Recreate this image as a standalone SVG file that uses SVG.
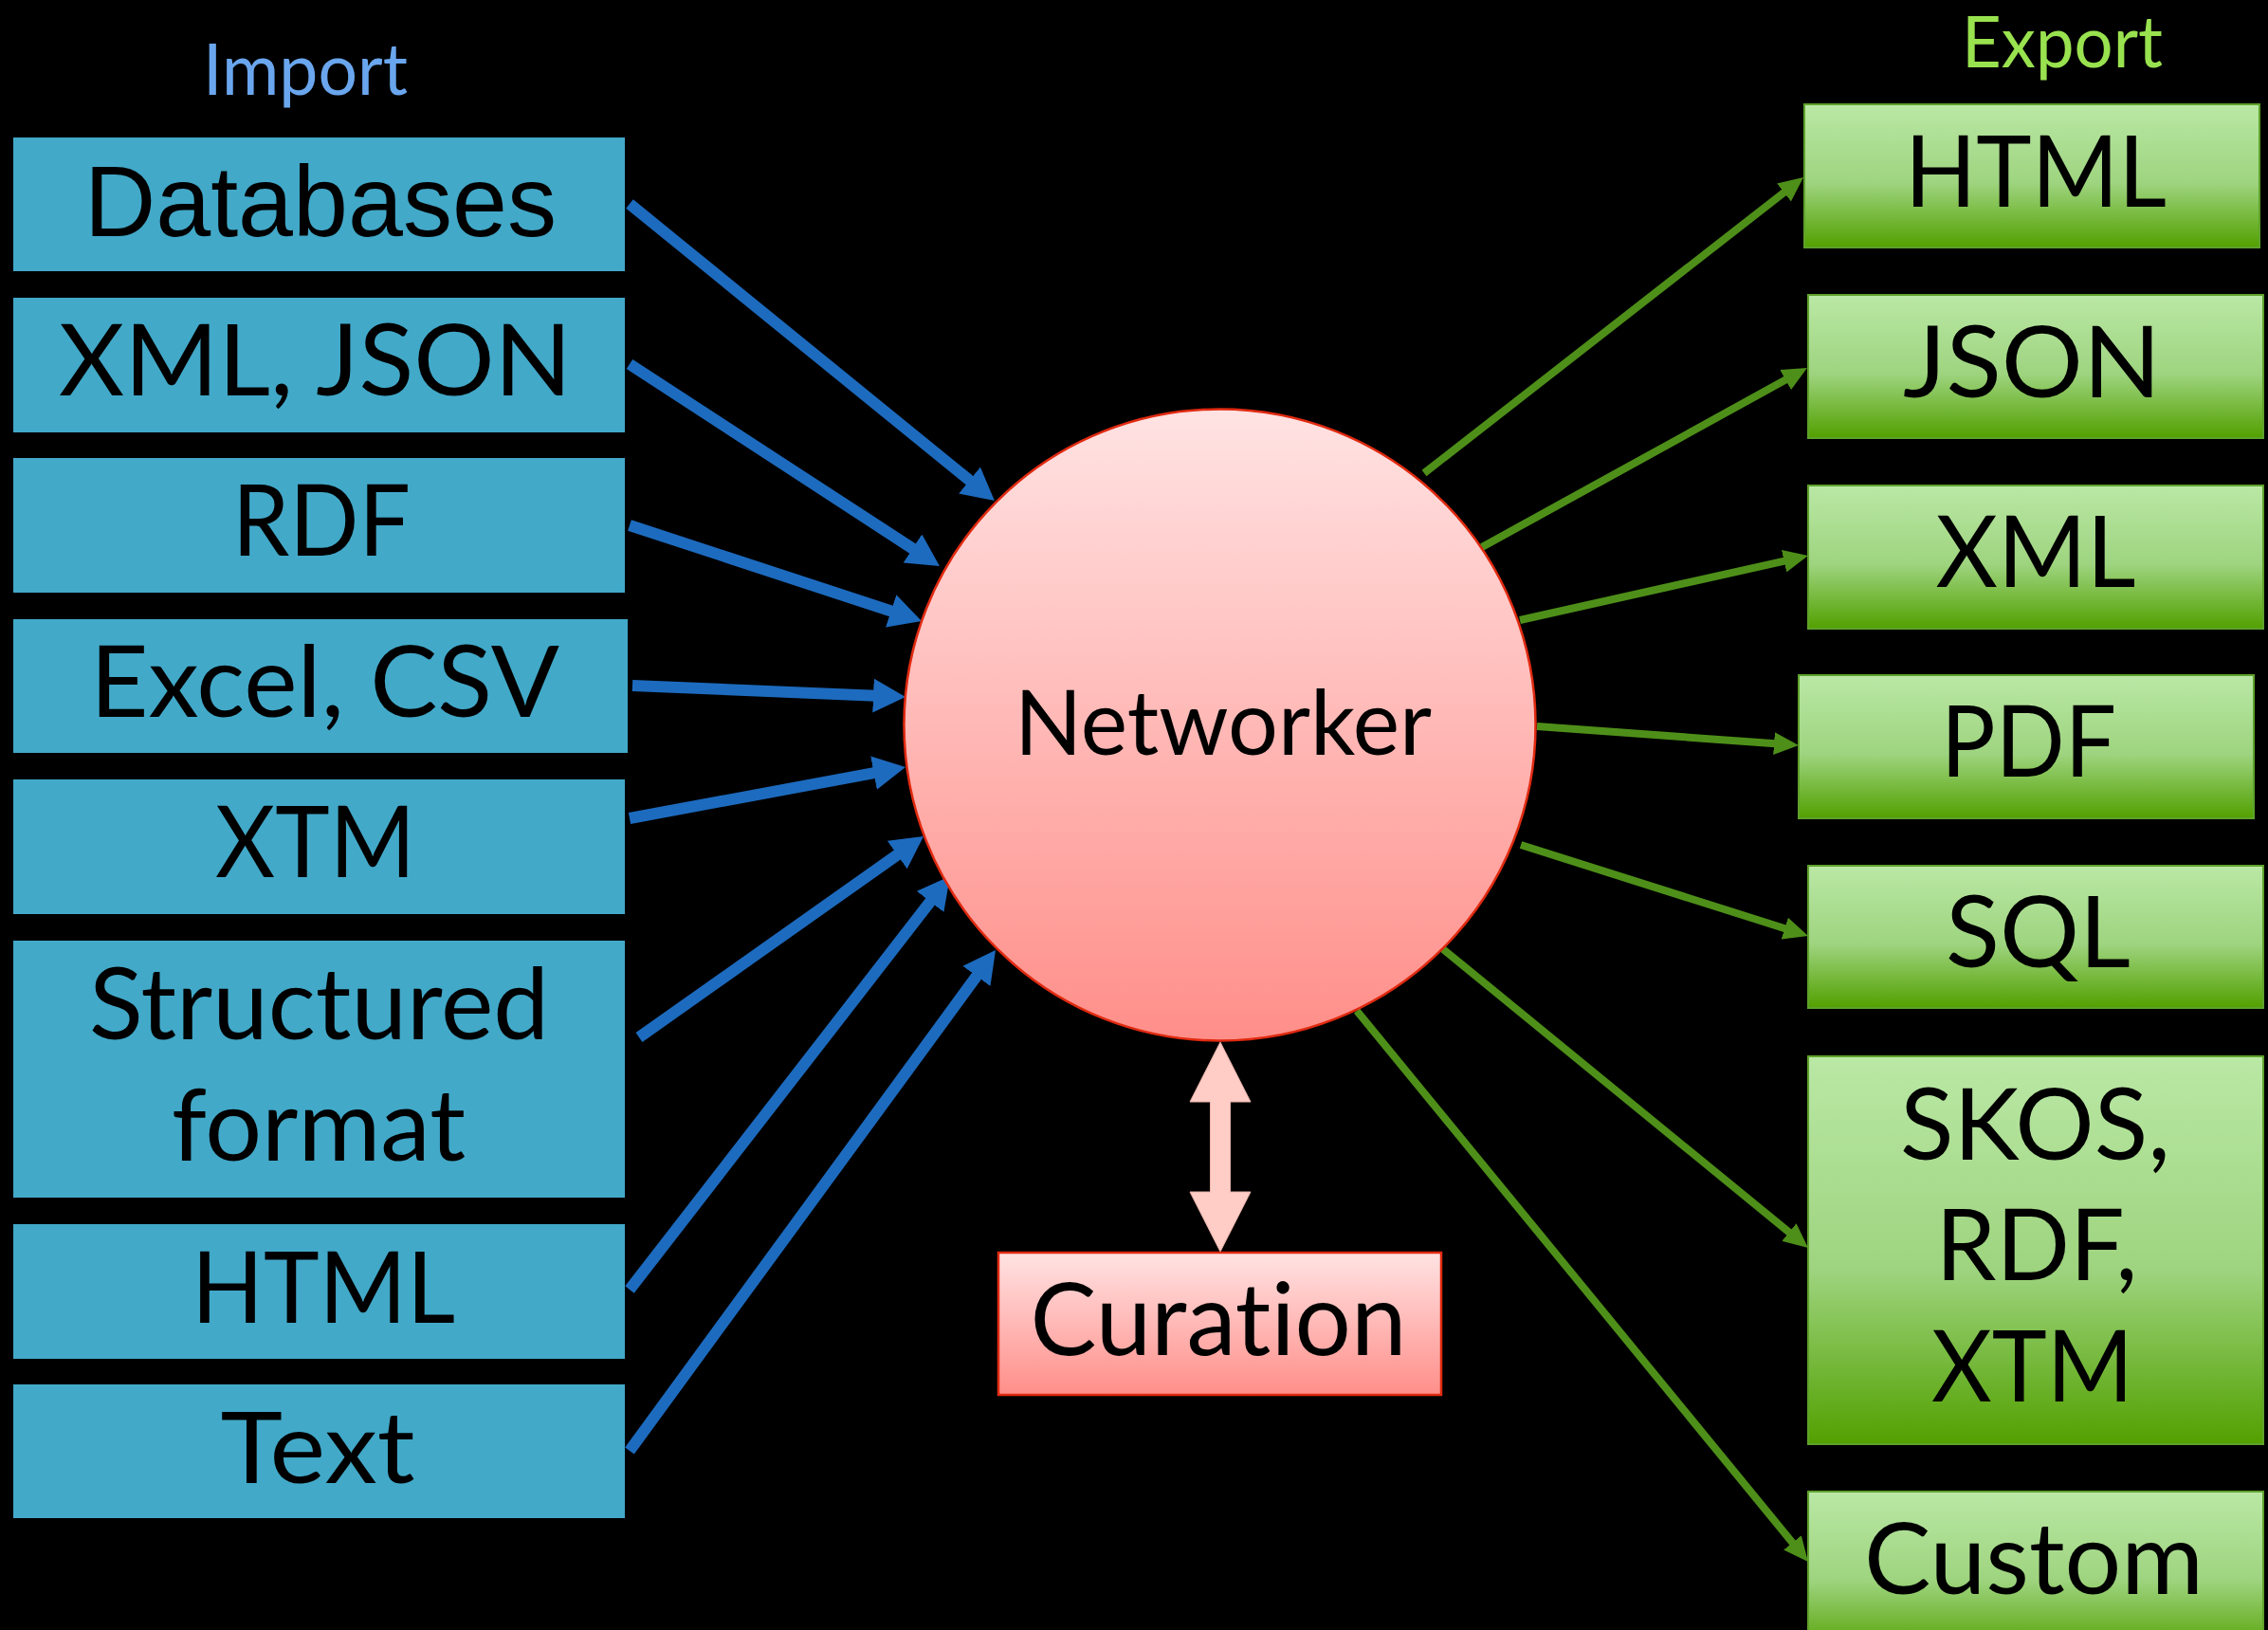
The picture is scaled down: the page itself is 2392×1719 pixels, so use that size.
<svg xmlns="http://www.w3.org/2000/svg" width="2392" height="1719" viewBox="0 0 2392 1719">
  <style>
    .lbl { font-family: Lato, "Noto Sans", "Liberation Sans", sans-serif; fill: #000; text-anchor: middle; font-variant-ligatures: none; font-feature-settings: "liga" 0; }
    .big { font-size: 105px; }
    .db { font-family: "Liberation Sans", Arial, sans-serif; font-size: 105px; fill: #000; text-anchor: middle; }
    .src { fill: #42A9C9; }
    .dst { fill: url(#greenGrad); stroke: #5EA12B; stroke-width: 2; }
    .in { stroke: #1D6BBF; stroke-width: 12; fill: none; marker-end: url(#headBlue); }
    .out { stroke: #4E8F19; stroke-width: 8; fill: none; marker-end: url(#headGreen); }
  </style>
  <defs>
    <linearGradient id="greenGrad" x1="0" y1="0" x2="0" y2="1">
      <stop offset="0" stop-color="#BAE8A5"/>
      <stop offset="0.55" stop-color="#9ED47F"/>
      <stop offset="1" stop-color="#52A000"/>
    </linearGradient>
    <linearGradient id="pinkGrad" x1="0" y1="0" x2="0" y2="1">
      <stop offset="0" stop-color="#FFE3E3"/>
      <stop offset="1" stop-color="#FF8E89"/>
    </linearGradient>
    <marker id="headBlue" markerUnits="userSpaceOnUse" markerWidth="34" markerHeight="36" refX="14" refY="18" orient="auto" viewBox="0 0 34 36">
      <path d="M0,0 L34,18 L0,36 z" fill="#1D6BBF"/>
    </marker>
    <marker id="headGreen" markerUnits="userSpaceOnUse" markerWidth="26" markerHeight="24" refX="12" refY="12" orient="auto" viewBox="0 0 26 24">
      <path d="M0,0 L26,12 L0,24 z" fill="#4E8F19"/>
    </marker>
  </defs>

  <rect width="2392" height="1719" fill="#000"/>

  <!-- column headings -->
  <text class="lbl" x="322" y="100" font-size="75" style="fill:#6AA6EE" textLength="216" lengthAdjust="spacingAndGlyphs">Import</text>
  <text class="lbl" x="2175" y="71" font-size="76" style="fill:#99E24F" textLength="212" lengthAdjust="spacingAndGlyphs">Export</text>

  <!-- connectors -->
  <g id="connectors">
    <line class="in" x1="664" y1="215" x2="1033.4" y2="515.4"/>
    <line class="in" x1="664" y1="384" x2="974.2" y2="586.1"/>
    <line class="in" x1="664" y1="554" x2="953.0" y2="648.8"/>
    <line class="in" x1="667" y1="723" x2="935.0" y2="734.2"/>
    <line class="in" x1="664" y1="863" x2="935.3" y2="812.6"/>
    <line class="in" x1="674" y1="1094" x2="957.7" y2="893.5"/>
    <line class="in" x1="664" y1="1360" x2="989.7" y2="939.8"/>
    <line class="in" x1="664" y1="1530" x2="1038.2" y2="1018.1"/>

    <line class="out" x1="1502" y1="499" x2="1891.0" y2="195.6"/>
    <line class="out" x1="1563" y1="577" x2="1893.7" y2="394.8"/>
    <line class="out" x1="1603" y1="654" x2="1893.3" y2="589.1"/>
    <line class="out" x1="1621" y1="766" x2="1883.0" y2="785.0"/>
    <line class="out" x1="1604" y1="891" x2="1893.7" y2="982.8"/>
    <line class="out" x1="1522" y1="1001" x2="1896.2" y2="1307.1"/>
    <line class="out" x1="1431" y1="1066" x2="1898.1" y2="1636.2"/>

    <!-- two-way link between the hub and curation -->
    <polygon points="1287,1099 1319,1162 1297.5,1162 1297.5,1257 1319,1257 1287,1320 1255,1257 1276.5,1257 1276.5,1162 1255,1162" fill="#FFCDC5" stroke="#E8B2AA" stroke-width="1"/>
  </g>

  <!-- import sources -->
  <g id="in-databases">
    <rect class="src" x="14" y="145" width="645" height="141"/>
    <text class="db" x="338" y="249" textLength="498" lengthAdjust="spacingAndGlyphs">Databases</text>
  </g>
  <g id="in-xml-json">
    <rect class="src" x="14" y="314" width="645" height="142"/>
    <text class="lbl big" x="332.5" y="417" textLength="541" lengthAdjust="spacingAndGlyphs">XML, JSON</text>
  </g>
  <g id="in-rdf">
    <rect class="src" x="14" y="483" width="645" height="142"/>
    <text class="lbl big" x="339" y="586" textLength="188" lengthAdjust="spacingAndGlyphs">RDF</text>
  </g>
  <g id="in-excel-csv">
    <rect class="src" x="14" y="653" width="648" height="141"/>
    <text class="lbl big" x="342.5" y="756" textLength="495" lengthAdjust="spacingAndGlyphs">Excel, CSV</text>
  </g>
  <g id="in-xtm">
    <rect class="src" x="14" y="822" width="645" height="142"/>
    <text class="lbl big" x="332.5" y="925" textLength="211" lengthAdjust="spacingAndGlyphs">XTM</text>
  </g>
  <g id="in-structured">
    <rect class="src" x="14" y="992" width="645" height="271"/>
    <text class="lbl big" x="336.5" y="1096" textLength="485" lengthAdjust="spacingAndGlyphs">Structured</text>
    <text class="lbl big" x="336" y="1224" textLength="310" lengthAdjust="spacingAndGlyphs">format</text>
  </g>
  <g id="in-html">
    <rect class="src" x="14" y="1291" width="645" height="142"/>
    <text class="lbl big" x="341" y="1395" textLength="278" lengthAdjust="spacingAndGlyphs">HTML</text>
  </g>
  <g id="in-text">
    <rect class="src" x="14" y="1460" width="645" height="141"/>
    <text class="lbl big" x="335" y="1564" textLength="205" lengthAdjust="spacingAndGlyphs">Text</text>
  </g>

  <!-- hub -->
  <g id="networker">
    <circle cx="1286.5" cy="764.5" r="333" fill="url(#pinkGrad)" stroke="#E02A10" stroke-width="2.5"/>
    <text class="lbl" x="1290" y="795.5" font-size="95" textLength="440" lengthAdjust="spacingAndGlyphs">Networker</text>
  </g>

  <g id="curation">
    <rect x="1053" y="1321" width="467" height="150" fill="url(#pinkGrad)" stroke="#E02A10" stroke-width="2.5"/>
    <text class="lbl" x="1285" y="1429" font-size="107" textLength="397" lengthAdjust="spacingAndGlyphs">Curation</text>
  </g>

  <!-- export targets -->
  <g id="out-html">
    <rect class="dst" x="1903" y="110" width="480" height="151"/>
    <text class="lbl big" x="2147" y="218" textLength="276" lengthAdjust="spacingAndGlyphs">HTML</text>
  </g>
  <g id="out-json">
    <rect class="dst" x="1907" y="311" width="480" height="151"/>
    <text class="lbl big" x="2143" y="419" textLength="272" lengthAdjust="spacingAndGlyphs">JSON</text>
  </g>
  <g id="out-xml">
    <rect class="dst" x="1907" y="512" width="480" height="151"/>
    <text class="lbl big" x="2147" y="619" textLength="211" lengthAdjust="spacingAndGlyphs">XML</text>
  </g>
  <g id="out-pdf">
    <rect class="dst" x="1897" y="712" width="480" height="151"/>
    <text class="lbl big" x="2139.5" y="819" textLength="185" lengthAdjust="spacingAndGlyphs">PDF</text>
  </g>
  <g id="out-sql">
    <rect class="dst" x="1907" y="913" width="480" height="150"/>
    <text class="lbl big" x="2149.5" y="1019.5" textLength="195" lengthAdjust="spacingAndGlyphs">SQL</text>
  </g>
  <g id="out-skos">
    <rect class="dst" x="1907" y="1114" width="480" height="409"/>
    <text class="lbl big" x="2146.5" y="1222.5" textLength="285" lengthAdjust="spacingAndGlyphs">SKOS,</text>
    <text class="lbl big" x="2148" y="1350" textLength="213" lengthAdjust="spacingAndGlyphs">RDF,</text>
    <text class="lbl big" x="2143.5" y="1477.5" textLength="213" lengthAdjust="spacingAndGlyphs">XTM</text>
  </g>
  <g id="out-custom">
    <rect class="dst" x="1907" y="1573" width="480" height="170"/>
    <text class="lbl big" x="2145" y="1681" textLength="358" lengthAdjust="spacingAndGlyphs">Custom</text>
  </g>
</svg>
